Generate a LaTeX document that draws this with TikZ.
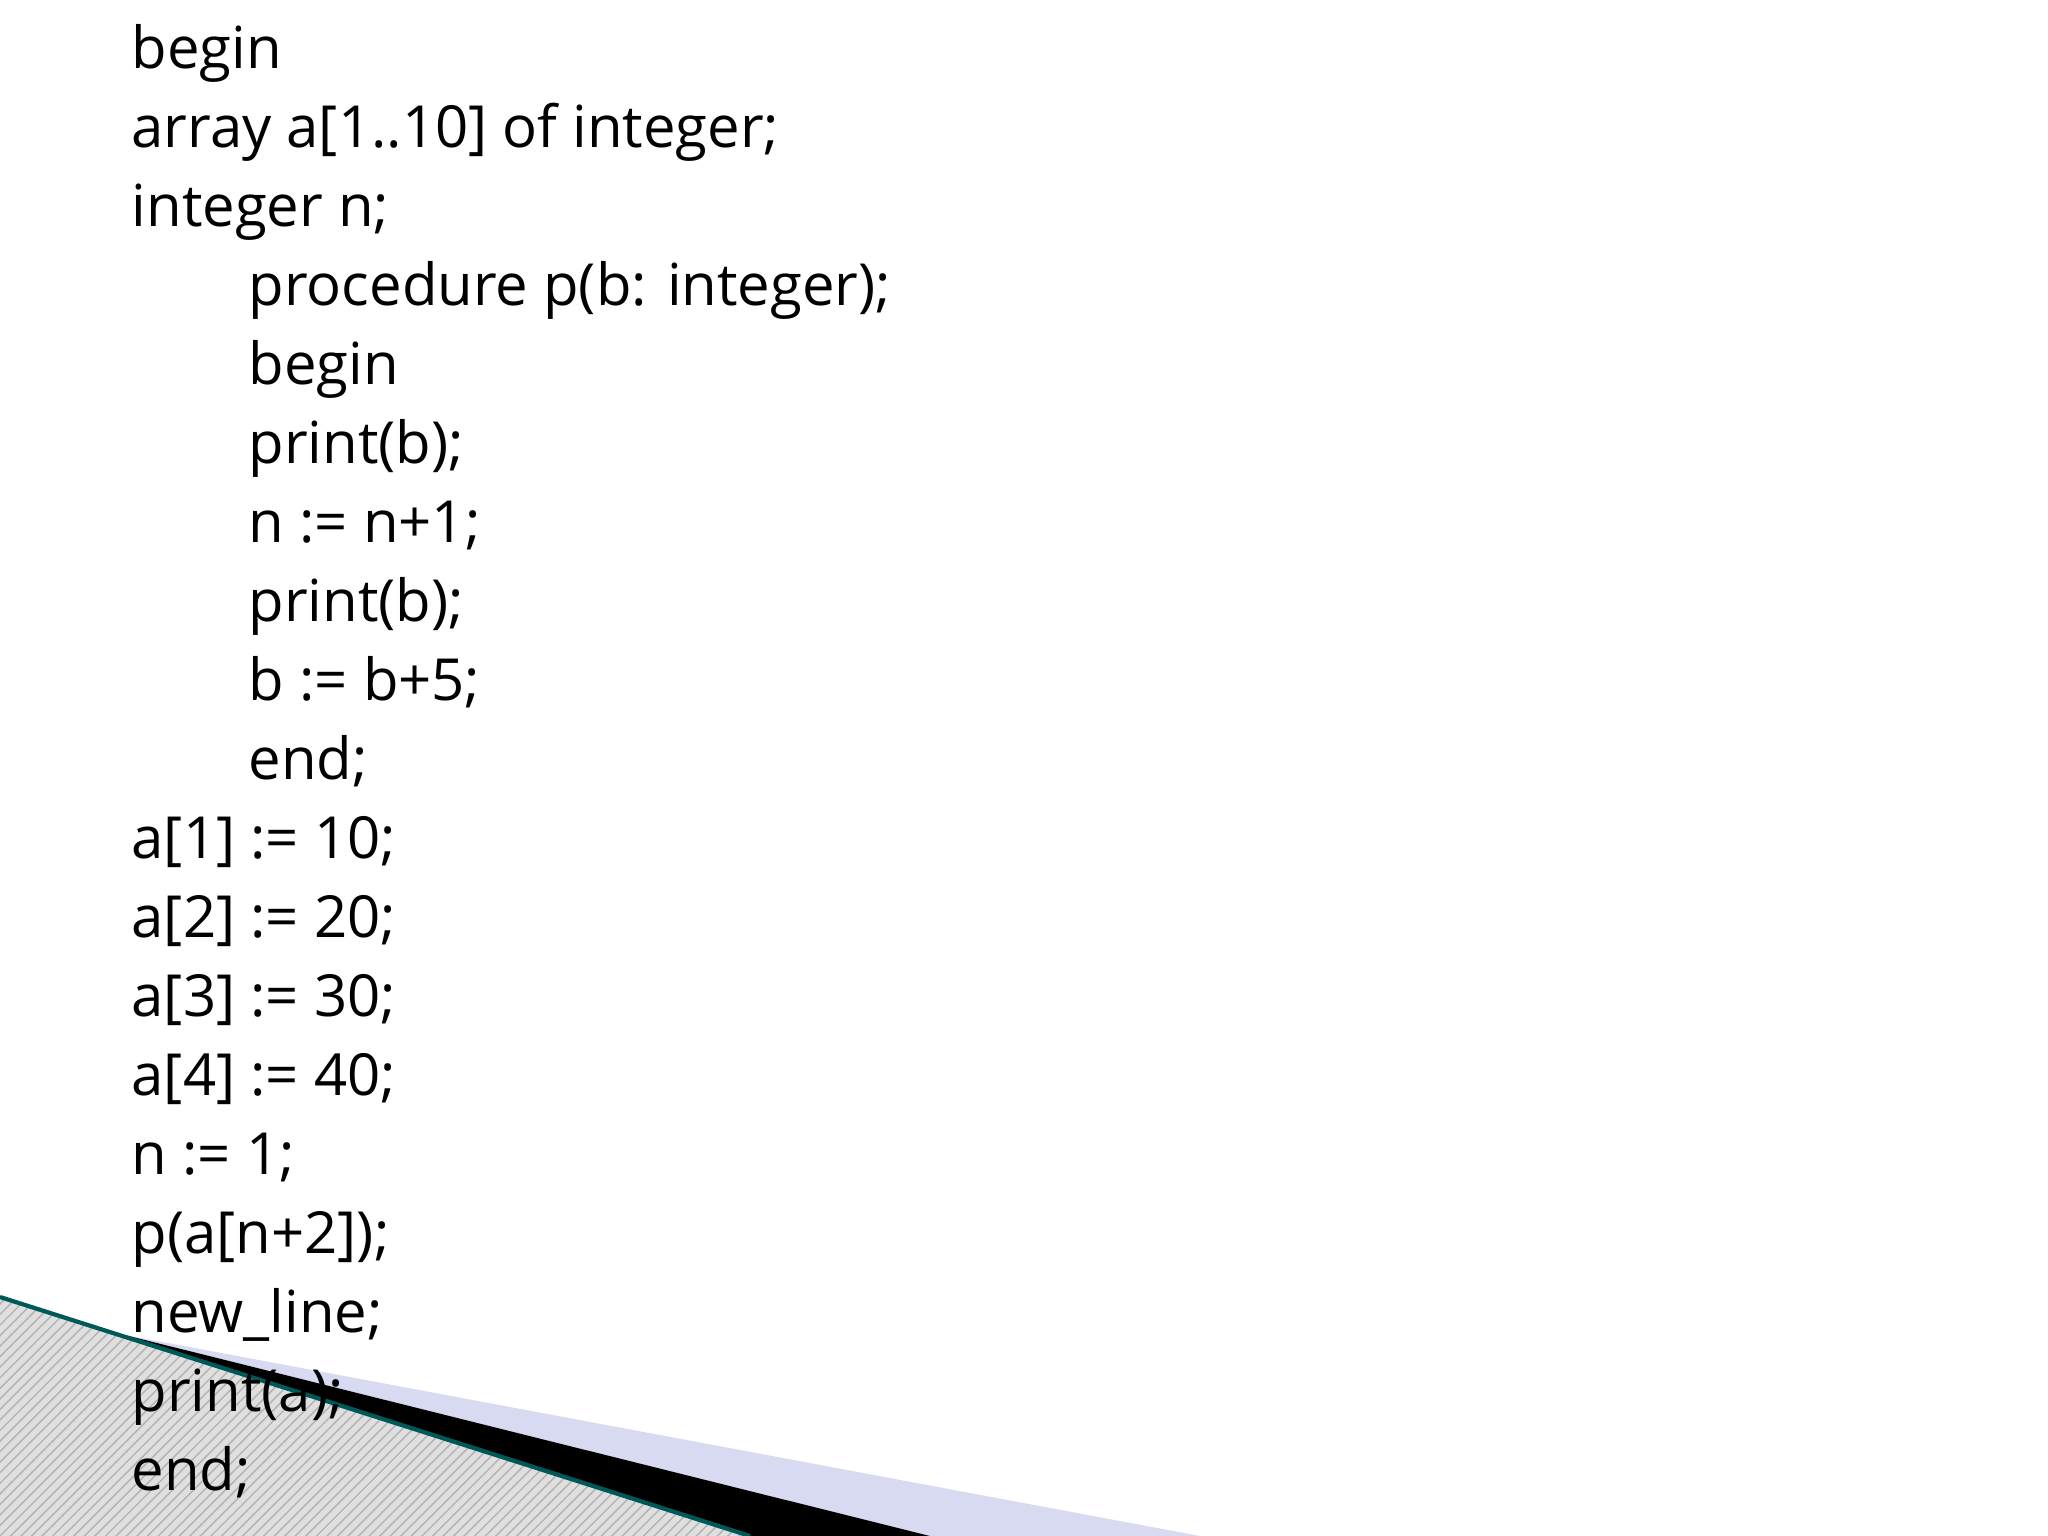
\documentclass[tikz,border=0pt]{standalone}
\usepackage{fontspec}
\setmainfont{Open Sans}
\usetikzlibrary{patterns}
\begin{document}
\begin{tikzpicture}[x=0.01cm,y=-0.01cm,
  code/.style={anchor=base west,inner sep=0pt,font=\fontsize{16.5pt}{18pt}\selectfont}]
\useasboundingbox (0,0) rectangle (2048,1536);
\fill[white] (0,0) rectangle (2048,1536);
% decoration
\fill[gray!25] (0,1297) -- (750,1536) -- (0,1536) -- cycle;
\fill[pattern=north east lines,pattern color=gray!60] (0,1297) -- (750,1536) -- (0,1536) -- cycle;
\fill[blue!40!cyan!15!white,fill=cyan!30!blue!15] (125,1335) -- (1200,1536) -- (930,1536) -- cycle;
\fill[black] (125,1335) -- (930,1536) -- (750,1536) -- cycle;
\draw[teal!70!black,line width=1.2pt] (0,1297) -- (750,1536);
% code
\foreach \t [count=\i from 0] in {begin,array a[1..10] of integer;,integer n;,,,,,,,,a[1] := 10;,a[2] := 20;,a[3] := 30;,a[4] := 40;,n := 1;,p(a[n+2]);,new\_line;,print(a);,end;}
  {\node[code] (l\i) at (131,68+79*\i) {\t};}
\foreach \t [count=\i from 3] in {procedure p(b: integer);,begin,print(b);,n := n+1;,print(b);,b := b+5;,end;}
  {\node[code] (m\i) at (248,68+79*\i) {\t};}
\end{tikzpicture}
\end{document}
